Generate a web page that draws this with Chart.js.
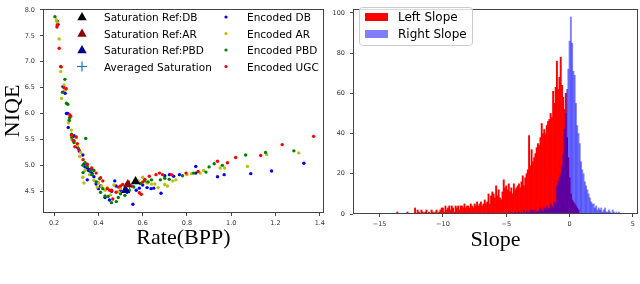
<!DOCTYPE html>
<html>
<head>
<meta charset="utf-8">
<script src="https://cdn.jsdelivr.net/npm/chart.js@4.4.0/dist/chart.umd.min.js"></script>
<style>
  body { margin: 0; background: #fff; width: 640px; height: 284px; overflow: hidden; position: relative; }
  .panel { position: absolute; top: 0; height: 255px; }
  #leftPanel { left: 0; width: 330px; }
  #rightPanel { left: 330px; width: 310px; }
  #legends { position: absolute; left: 0; top: 0; pointer-events: none; }
  #legends text { font-family: 'DejaVu Sans', sans-serif; fill: #000; dominant-baseline: central; }
</style>
</head>
<body>
<div class="panel" id="leftPanel"><canvas id="rateChart"></canvas></div>
<div class="panel" id="rightPanel"><canvas id="slopeChart"></canvas></div>

<svg id="legends" width="640" height="284">
  <!-- left legend -->
  <polygon points="82,12 77.3,20.2 86.7,20.2" fill="#000"/>
  <text x="104" y="17" font-size="10.5">Saturation Ref:DB</text>
  <polygon points="82,28.5 77.3,36.7 86.7,36.7" fill="#8b0000"/>
  <text x="104" y="33.5" font-size="10.5">Saturation Ref:AR</text>
  <polygon points="82,45 77.3,53.2 86.7,53.2" fill="#00008b"/>
  <text x="104" y="50" font-size="10.5">Saturation Ref:PBD</text>
  <line x1="77" y1="66.5" x2="87" y2="66.5" stroke="#1f77b4" stroke-width="1.2"/>
  <line x1="82" y1="61.5" x2="82" y2="71.5" stroke="#1f77b4" stroke-width="1.2"/>
  <text x="104" y="66.5" font-size="10.5">Averaged Saturation</text>
  <circle cx="226" cy="17" r="1.6" fill="#0000ff"/>
  <text x="247" y="17" font-size="10.5">Encoded DB</text>
  <circle cx="226" cy="33.5" r="1.6" fill="#bfbf00"/>
  <text x="247" y="33.5" font-size="10.5">Encoded AR</text>
  <circle cx="226" cy="50" r="1.6" fill="#008000"/>
  <text x="247" y="50" font-size="10.5">Encoded PBD</text>
  <circle cx="226" cy="66.5" r="1.6" fill="#ff0000"/>
  <text x="247" y="66.5" font-size="10.5">Encoded UGC</text>
  <!-- right legend -->
  <rect x="359.5" y="7.5" width="113" height="38" rx="3" fill="#fff" fill-opacity="0.8" stroke="#ccc"/>
  <rect x="365" y="13" width="23" height="8" fill="#ff0000"/>
  <text x="398" y="17" font-size="12">Left Slope</text>
  <rect x="365" y="30" width="23" height="8" fill="rgba(0,0,255,0.5)"/>
  <text x="398" y="34" font-size="12">Right Slope</text>
</svg>

<script>
// Left panel: encoded points, [rate (BPP), NIQE]
const encodedDB = [
  [0.215,7.78],[0.218,7.72],[0.24,6.52],[0.246,6.42],[0.25,6.39],[0.256,6.0],[0.262,6.0],[0.264,5.73],
  [0.285,5.55],[0.29,5.57],[0.29,5.47],[0.305,5.35],[0.315,5.27],[0.33,5.2],[0.335,5.02],[0.34,4.97],
  [0.35,4.95],[0.356,4.9],[0.36,4.92],[0.365,4.88],[0.37,4.93],[0.372,4.84],[0.38,4.78],[0.35,4.72],
  [0.39,4.64],[0.395,4.67],[0.4,4.55],[0.41,4.6],[0.43,4.38],[0.45,4.33],[0.46,4.5],[0.474,4.7],
  [0.48,4.6],[0.5,4.52],[0.52,4.55],[0.53,4.48],[0.556,4.25],[0.571,4.52],[0.585,4.56],[0.6,4.62],
  [0.62,4.57],[0.638,4.55],[0.65,4.56],[0.683,4.46],[0.7,4.8],[0.721,4.82],[0.74,4.79],[0.766,4.82],
  [0.84,4.85],[0.84,4.98],[0.938,4.78],[0.968,4.82],[1.088,4.84],[1.182,4.89],[1.328,5.04]
];
const encodedAR = [
  [0.21,7.81],[0.215,7.76],[0.223,7.44],[0.23,6.81],[0.245,6.55],[0.234,6.29],[0.25,6.45],[0.27,5.86],
  [0.265,5.82],[0.278,5.68],[0.28,5.5],[0.3,5.53],[0.305,5.38],[0.316,5.17],[0.32,5.25],[0.33,4.77],
  [0.335,4.66],[0.34,4.9],[0.36,4.82],[0.38,4.71],[0.395,4.58],[0.4,4.66],[0.415,4.6],[0.43,4.52],
  [0.44,4.57],[0.455,4.43],[0.47,4.62],[0.49,4.49],[0.5,4.55],[0.535,4.68],[0.58,4.7],[0.6,4.77],
  [0.62,4.66],[0.64,4.64],[0.655,4.64],[0.67,4.57],[0.7,4.63],[0.712,4.6],[0.736,4.7],[0.75,4.72],
  [0.8,4.82],[0.82,4.84],[0.86,4.85],[0.875,4.9],[0.95,4.95],[0.97,4.95],[1.073,4.98],[1.16,5.21],[1.305,5.24]
];
const encodedPBD = [
  [0.204,7.87],[0.23,6.91],[0.249,6.66],[0.238,6.41],[0.256,6.2],[0.262,6.18],[0.27,5.92],[0.268,5.87],
  [0.28,5.54],[0.279,5.6],[0.343,5.52],[0.29,5.44],[0.31,5.32],[0.33,5.0],[0.34,5.05],[0.35,4.98],
  [0.365,4.9],[0.37,4.82],[0.331,4.86],[0.38,4.9],[0.406,4.74],[0.39,4.68],[0.42,4.55],[0.41,4.48],
  [0.43,4.41],[0.444,4.4],[0.459,4.28],[0.481,4.3],[0.49,4.38],[0.5,4.45],[0.52,4.42],[0.54,4.52],
  [0.56,4.58],[0.59,4.65],[0.61,4.7],[0.625,4.68],[0.64,4.72],[0.68,4.72],[0.7,4.75],[0.72,4.73],
  [0.78,4.8],[0.83,4.85],[0.886,4.87],[0.9,4.97],[0.923,5.03],[0.96,5.0],[1.065,5.2],[1.155,5.25],[1.283,5.28]
];
const encodedUGC = [
  [0.214,7.71],[0.213,7.67],[0.223,7.26],[0.232,6.9],[0.245,6.5],[0.255,6.48],[0.27,5.98],[0.275,5.95],
  [0.279,5.58],[0.3,5.55],[0.286,5.48],[0.294,5.36],[0.305,5.42],[0.312,5.3],[0.331,5.11],[0.35,5.02],
  [0.37,4.95],[0.39,4.85],[0.41,4.76],[0.42,4.7],[0.451,4.52],[0.44,4.55],[0.46,4.52],[0.465,4.35],
  [0.48,4.48],[0.49,4.58],[0.5,4.6],[0.51,4.63],[0.53,4.65],[0.55,4.6],[0.585,4.47],[0.594,4.44],
  [0.6,4.68],[0.61,4.73],[0.63,4.79],[0.66,4.82],[0.676,4.85],[0.69,4.82],[0.73,4.82],[0.796,4.85],
  [0.85,4.88],[0.938,5.08],[0.983,5.05],[1.02,5.15],[1.133,5.19],[1.23,5.4],[1.372,5.56]
];
const saturationDB = [[0.568, 4.69]];
const saturationAR = [[0.533, 4.63]];
const saturationPBD = [[0.523, 4.52]];
const averagedSaturation = [[0.541, 4.61]];

const rateTicks = [0.2, 0.4, 0.6, 0.8, 1.0, 1.2, 1.4];
const niqeTicks = [4.5, 5.0, 5.5, 6.0, 6.5, 7.0, 7.5, 8.0];

// Right panel: slope histograms (bin width 0.1, counts per bin)
const binWidth = 0.1;
const leftSlopeStart = -14.0;
const leftSlopeCounts = [
  0,0,0,0,1,0,0,0,0,0,
  0,0,1,0,0,0,0,0,3,0,
  2,1,0,2,1,0,1,2,0,1,
  0,2,1,0,1,2,0,1,2,3,
  3,1,4,2,3,4,2,4,3,1,
  4,3,4,2,4,4,3,5,3,4,
  4,3,5,4,3,5,4,6,4,5,
  6,4,5,7,5,6,10,5,9,11,
  10,8,14,9,12,8,7,11,17,13,
  14,12,15,11,13,10,15,12,13,14,
  15,13,16,19,14,18,20,22,39,24,
  32,26,28,30,33,35,34,38,45,40,
  42,40,44,46,47,50,48,61,55,63,
  76,62,68,78,64,58,52,60,38,28,
  18,10,7,6,5,4,3,2
];
const rightSlopeStart = -5.0;
const rightSlopeCounts = [
  0,0,0,0,1,0,0,1,0,0,
  1,0,1,0,2,0,1,1,0,2,
  1,2,0,2,1,1,2,3,2,1,
  3,2,4,2,3,5,4,3,6,5,
  14,16,18,20,24,30,42,50,62,72,
  86,98,85,71,69,55,44,40,35,26,
  22,20,16,14,12,10,8,6,5,5,
  3,4,2,3,2,3,1,2,3,1,
  1,2,1,0,2,1,0,1,0,1
];
const slopeTicks = [-15, -10, -5, 0, 5];
const countTicks = [0, 20, 40, 60, 80, 100];

Chart.defaults.font.family = "'DejaVu Sans', sans-serif";
Chart.defaults.color = '#333';

// Full box around the plot area, like matplotlib spines
const framePlugin = {
  id: 'frame',
  afterDraw(chart) {
    const { ctx, chartArea: a } = chart;
    ctx.save();
    ctx.strokeStyle = '#444';
    ctx.lineWidth = 1;
    ctx.strokeRect(Math.round(a.left) + 0.5, Math.round(a.top) + 0.5,
      Math.round(a.right - a.left) - 1, Math.round(a.bottom - a.top) - 1);
    ctx.restore();
  }
};

function fixedTicks(values) {
  return scale => { scale.ticks = values.map(v => ({ value: v })); };
}

function minusLabel(v) {
  return v < 0 ? '\u2212' + Math.abs(v) : String(v);
}

function axis(opts) {
  return Object.assign({
    type: 'linear',
    border: { display: false },
    grid: { drawOnChartArea: false, drawTicks: true, tickLength: 3, color: '#444' },
    ticks: { font: { size: 6.5 }, color: '#333', autoSkip: false, maxRotation: 0 }
  }, opts);
}

function toPoints(pairs) {
  return pairs.map(p => ({ x: p[0], y: p[1] }));
}

function toBars(start, counts) {
  return counts.map((c, i) => ({ x: +(start + i * binWidth).toFixed(2), y: c }));
}

function dots(label, pairs, color) {
  return { label: label, data: toPoints(pairs), backgroundColor: color, borderWidth: 0, pointRadius: 1.7 };
}

function triangle(label, pairs, color) {
  return { label: label, data: toPoints(pairs), pointStyle: 'triangle', backgroundColor: color,
    borderColor: color, borderWidth: 0, pointRadius: 5.5 };
}

const titleFont = { family: "'Liberation Serif', serif", size: 22 };

new Chart(document.getElementById('rateChart'), {
  type: 'scatter',
  data: {
    datasets: [
      triangle('Saturation Ref:DB', saturationDB, '#000000'),
      triangle('Saturation Ref:AR', saturationAR, '#8b0000'),
      triangle('Saturation Ref:PBD', saturationPBD, '#00008b'),
      { label: 'Averaged Saturation', data: toPoints(averagedSaturation), pointStyle: 'cross',
        borderColor: '#1f77b4', borderWidth: 1.2, pointRadius: 5 },
      dots('Encoded UGC', encodedUGC, '#ff0000'),
      dots('Encoded PBD', encodedPBD, '#008000'),
      dots('Encoded AR', encodedAR, '#bfbf00'),
      dots('Encoded DB', encodedDB, '#0000ff')
    ]
  },
  options: {
    animation: false,
    responsive: true,
    maintainAspectRatio: false,
    layout: { padding: { top: 3, right: 5, left: 0, bottom: 0 } },
    plugins: { legend: { display: false }, tooltip: { enabled: false } },
    scales: {
      x: axis({
        min: 0.15, max: 1.418,
        afterBuildTicks: fixedTicks(rateTicks),
        afterFit: s => { s.height = 42; },
        ticks: { font: { size: 6.5 }, color: '#333', autoSkip: false, maxRotation: 0, padding: 3,
          callback: v => v.toFixed(1) },
        title: { display: true, text: 'Rate(BPP)', font: titleFont, color: '#000', padding: { top: 0, bottom: 4 } }
      }),
      y: axis({
        min: 4.08, max: 8.02,
        afterBuildTicks: fixedTicks(niqeTicks),
        afterFit: s => { s.width = 43; },
        ticks: { font: { size: 6.5 }, color: '#333', autoSkip: false, padding: 5,
          callback: v => v.toFixed(1) },
        title: { display: true, text: 'NIQE', font: titleFont, color: '#000', padding: 0 }
      })
    }
  },
  plugins: [framePlugin]
});

new Chart(document.getElementById('slopeChart'), {
  type: 'bar',
  data: {
    datasets: [
      { label: 'Left Slope', data: toBars(leftSlopeStart, leftSlopeCounts), backgroundColor: '#ff0000', order: 2 },
      { label: 'Right Slope', data: toBars(rightSlopeStart, rightSlopeCounts), backgroundColor: 'rgba(0,0,255,0.5)', order: 1 }
    ]
  },
  options: {
    animation: false,
    responsive: true,
    maintainAspectRatio: false,
    datasets: { bar: { barPercentage: 1, categoryPercentage: 1, grouped: false, borderWidth: 0 } },
    layout: { padding: { top: 3, right: 2, left: 0, bottom: 0 } },
    plugins: { legend: { display: false }, tooltip: { enabled: false } },
    scales: {
      x: axis({
        min: -17.1, max: 5.4, offset: false,
        afterBuildTicks: fixedTicks(slopeTicks),
        afterFit: s => { s.height = 41; },
        grid: { drawOnChartArea: false, drawTicks: true, tickLength: 3, color: '#444', offset: false },
        ticks: { font: { size: 6.5 }, color: '#333', autoSkip: false, maxRotation: 0, padding: 3,
          callback: v => minusLabel(v) },
        title: { display: true, text: 'Slope', font: titleFont, color: '#000', padding: { top: 0, bottom: 2 } }
      }),
      y: axis({
        min: 0, max: 102,
        afterBuildTicks: fixedTicks(countTicks),
        afterFit: s => { s.width = 23; },
        ticks: { font: { size: 6.5 }, color: '#333', autoSkip: false, padding: 5 }
      })
    }
  },
  plugins: [framePlugin]
});
</script>
</body>
</html>
